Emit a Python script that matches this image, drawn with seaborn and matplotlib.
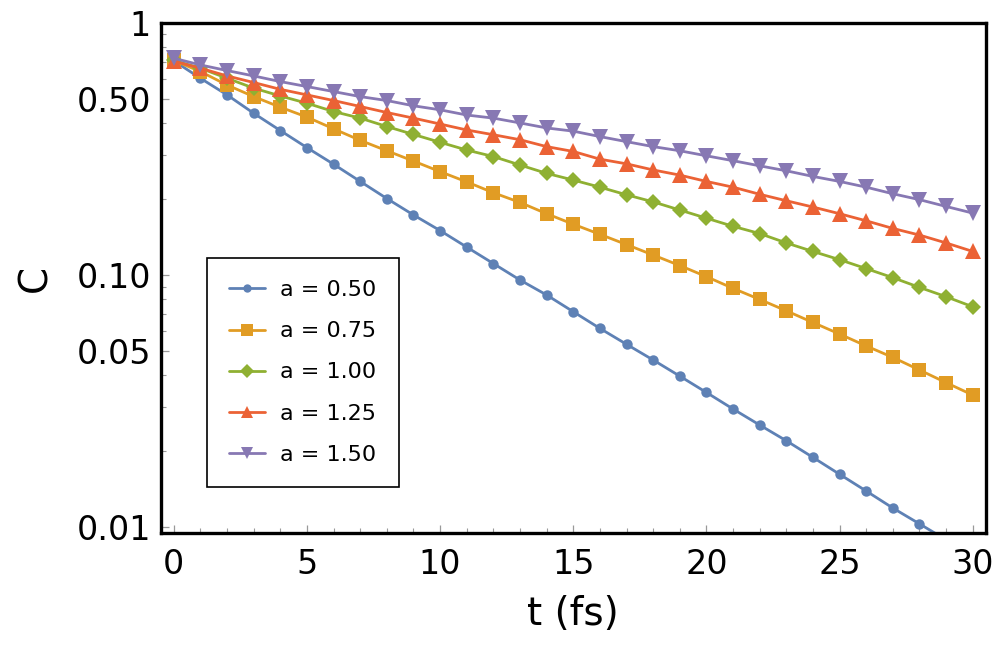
import numpy as np
import pandas as pd
import matplotlib
matplotlib.use("Agg")
import matplotlib.pyplot as plt
from matplotlib.lines import Line2D
import seaborn as sns
from matplotlib.ticker import FixedLocator, NullFormatter, FixedFormatter

# ---- data ----
t = list(range(0, 31))
labels = ["a = 0.50", "a = 0.75", "a = 1.00", "a = 1.25", "a = 1.50"]

c_050 = [0.707, 0.603, 0.518, 0.438, 0.374, 0.320, 0.275, 0.235, 0.201, 0.173,
         0.150, 0.129, 0.111, 0.0955, 0.0833, 0.0715, 0.0614, 0.0531, 0.0460, 0.0397,
         0.0342, 0.0294, 0.0254, 0.0220, 0.0189, 0.0162, 0.0139, 0.0119, 0.0103, 0.0089,
         0.0076]
c_075 = [0.710, 0.641, 0.567, 0.510, 0.463, 0.423, 0.380, 0.342, 0.311, 0.283,
         0.257, 0.234, 0.212, 0.194, 0.175, 0.159, 0.145, 0.132, 0.120, 0.109,
         0.0985, 0.0885, 0.0800, 0.0721, 0.0648, 0.0583, 0.0523, 0.0471, 0.0420, 0.0374,
         0.0334]
c_100 = [0.710, 0.661, 0.603, 0.551, 0.513, 0.480, 0.445, 0.419, 0.388, 0.361,
         0.336, 0.313, 0.295, 0.273, 0.253, 0.238, 0.223, 0.208, 0.195, 0.181,
         0.168, 0.156, 0.146, 0.134, 0.124, 0.115, 0.106, 0.0976, 0.0893, 0.0820,
         0.0748]
c_125 = [0.705, 0.661, 0.616, 0.580, 0.545, 0.518, 0.492, 0.466, 0.441, 0.419,
         0.397, 0.376, 0.360, 0.344, 0.323, 0.309, 0.288, 0.276, 0.261, 0.249,
         0.235, 0.223, 0.209, 0.197, 0.186, 0.175, 0.164, 0.153, 0.144, 0.134,
         0.124]
c_150 = [0.724, 0.681, 0.647, 0.616, 0.585, 0.559, 0.534, 0.510, 0.492, 0.469,
         0.452, 0.431, 0.419, 0.401, 0.383, 0.372, 0.354, 0.338, 0.323, 0.311,
         0.297, 0.284, 0.271, 0.259, 0.246, 0.235, 0.223, 0.210, 0.199, 0.187,
         0.176]

series = [c_050, c_075, c_100, c_125, c_150]
colors = ["#5E81B5", "#E19C24", "#8FB032", "#EB6235", "#8778B3"]
markers = ["o", "s", "D", "^", "v"]
msizes = [7.5, 10, 8.5, 11.5, 11.5]

y_ticks = [0.01, 0.05, 0.1, 0.5, 1.0]
y_ticklabels = ["0.01", "0.05", "0.10", "0.50", "1"]
x_ticks = [0, 5, 10, 15, 20, 25, 30]

# ---- plotting ----
sns.set_style("white")
plt.rcParams["font.family"] = ["DejaVu Sans"]
plt.rcParams["text.color"] = "black"
plt.rcParams["axes.labelcolor"] = "black"
plt.rcParams["xtick.labelcolor"] = "black"
plt.rcParams["ytick.labelcolor"] = "black"

fig = plt.figure(figsize=(10, 6.54), dpi=100)
ax = fig.add_axes([0.1605, 0.185, 0.8255, 0.78])

for lab, vals, col, mk, ms in zip(labels, series, colors, markers, msizes):
    d = pd.DataFrame({"t": t, "C": vals})
    sns.lineplot(data=d, x="t", y="C", ax=ax, color=col, marker=mk,
                 markersize=ms, markeredgewidth=0, linewidth=2.0, label=lab,
                 legend=False)

ax.set_yscale("log")
ax.set_xlim(-0.5, 30.5)
ax.set_ylim(0.00947, 1.0)

ax.yaxis.set_major_locator(FixedLocator(y_ticks))
ax.yaxis.set_major_formatter(FixedFormatter(y_ticklabels))
minor_y = [v * 10.0 ** k for k in (-2, -1) for v in range(2, 10)]
ax.yaxis.set_minor_locator(FixedLocator(minor_y))
ax.yaxis.set_minor_formatter(NullFormatter())

ax.xaxis.set_major_locator(FixedLocator(x_ticks))
ax.xaxis.set_minor_locator(FixedLocator(list(range(0, 31))))

ax.tick_params(axis="both", which="both", direction="in", color="#999999",
               bottom=True, left=True, top=False, right=False)
ax.tick_params(axis="both", which="major", length=6, width=0.9, labelsize=24)
ax.tick_params(axis="both", which="minor", length=3.5, width=0.8)
ax.tick_params(axis="x", which="major", pad=11)
ax.tick_params(axis="y", which="major", pad=7)

for sp in ax.spines.values():
    sp.set_visible(True)
    sp.set_color("black")
    sp.set_linewidth(2.4)

ax.set_xlabel("t (fs)", fontsize=28, labelpad=10)
ax.set_ylabel("C", fontsize=28, labelpad=16)

leg_handles = [Line2D([], [], color=col, marker=mk, markersize=ms * 0.8,
                      markeredgewidth=0, linewidth=2.0)
               for col, mk, ms in zip(colors, markers, msizes)]
leg = ax.legend(leg_handles, labels, loc="upper left", bbox_to_anchor=(0.056, 0.539),
                frameon=True, fancybox=False, fontsize=16, labelspacing=0.95,
                handlelength=1.6, borderpad=1.0, handletextpad=0.7,
                borderaxespad=0.0)
leg.get_frame().set_edgecolor("black")
leg.get_frame().set_linewidth(1.2)
leg.get_frame().set_alpha(1)

fig.savefig("out.png", dpi=100)
